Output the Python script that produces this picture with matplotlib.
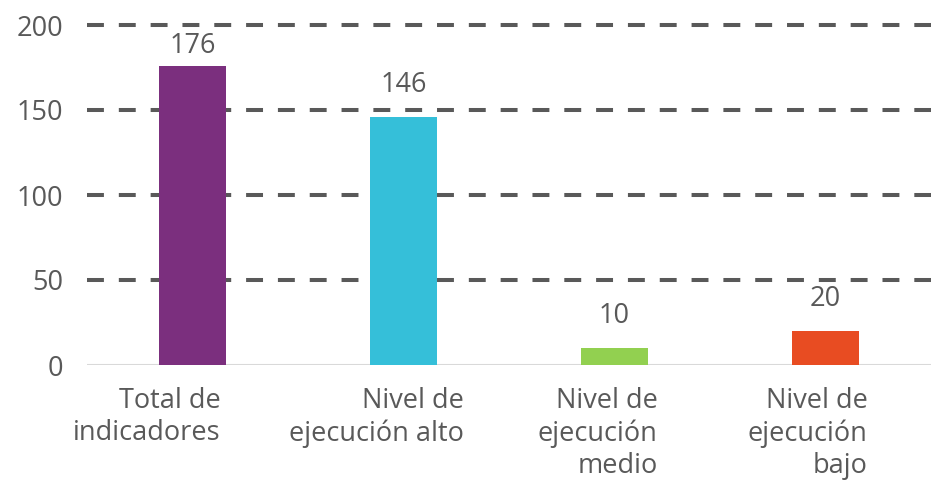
import matplotlib
matplotlib.use("Agg")
import matplotlib.pyplot as plt
import matplotlib.transforms as mtransforms

plt.rcParams['font.family'] = ['Open Sans', 'DejaVu Sans']

categories = ["Total de\nindicadores", "Nivel de\nejecución alto",
              "Nivel de\nejecución\nmedio", "Nivel de\nejecución\nbajo"]
values = [176, 146, 10, 20]
colors = ['#7B2F7E', '#35BFD9', '#92D050', '#E84C22']
yticks = [0, 50, 100, 150, 200]

# right edge of each category label, relative to bar centre (in category units)
label_offsets = [0.135, 0.285, 0.205, 0.2]
# gap between bar top and its value label (points)
value_gaps = [4, 13, 13, 13]

text_color = '#595959'
fs = 19.5

fig = plt.figure(figsize=(9.32, 4.87), dpi=100)
ax = fig.add_axes([87 / 932, 1 - 365 / 487, 844 / 932, 340 / 487])

x = list(range(len(values)))
bars = ax.bar(x, values, width=0.32, color=colors, zorder=3)

ax.set_xlim(-0.5, len(values) - 0.5)
ax.set_ylim(0, 200)
ax.set_yticks(yticks)
ax.set_yticklabels([str(t) for t in yticks], fontsize=fs, color=text_color)
ax.tick_params(axis='y', length=0, pad=17)
ax.set_xticks([])

for s in ax.spines.values():
    s.set_visible(False)

for t in yticks[1:]:
    ax.axhline(t, color='#595959', lw=2.9, dashes=(4.2, 3.7), zorder=1,
               clip_on=False)
ax.axhline(0, color='#D9D9D9', lw=1.5, zorder=2)

for xi, v, g in zip(x, values, value_gaps):
    ax.annotate(str(v), (xi, v), xytext=(0, g), textcoords='offset points',
                ha='center', va='bottom', fontsize=fs, color=text_color)

trans = mtransforms.blended_transform_factory(ax.transData, ax.transAxes)
for xi, lab, off in zip(x, categories, label_offsets):
    ax.text(xi + off, -0.065, lab, transform=trans, ha='right', va='top',
            multialignment='right', fontsize=fs, color=text_color,
            linespacing=1.2)

fig.savefig('out.png', dpi=100)
